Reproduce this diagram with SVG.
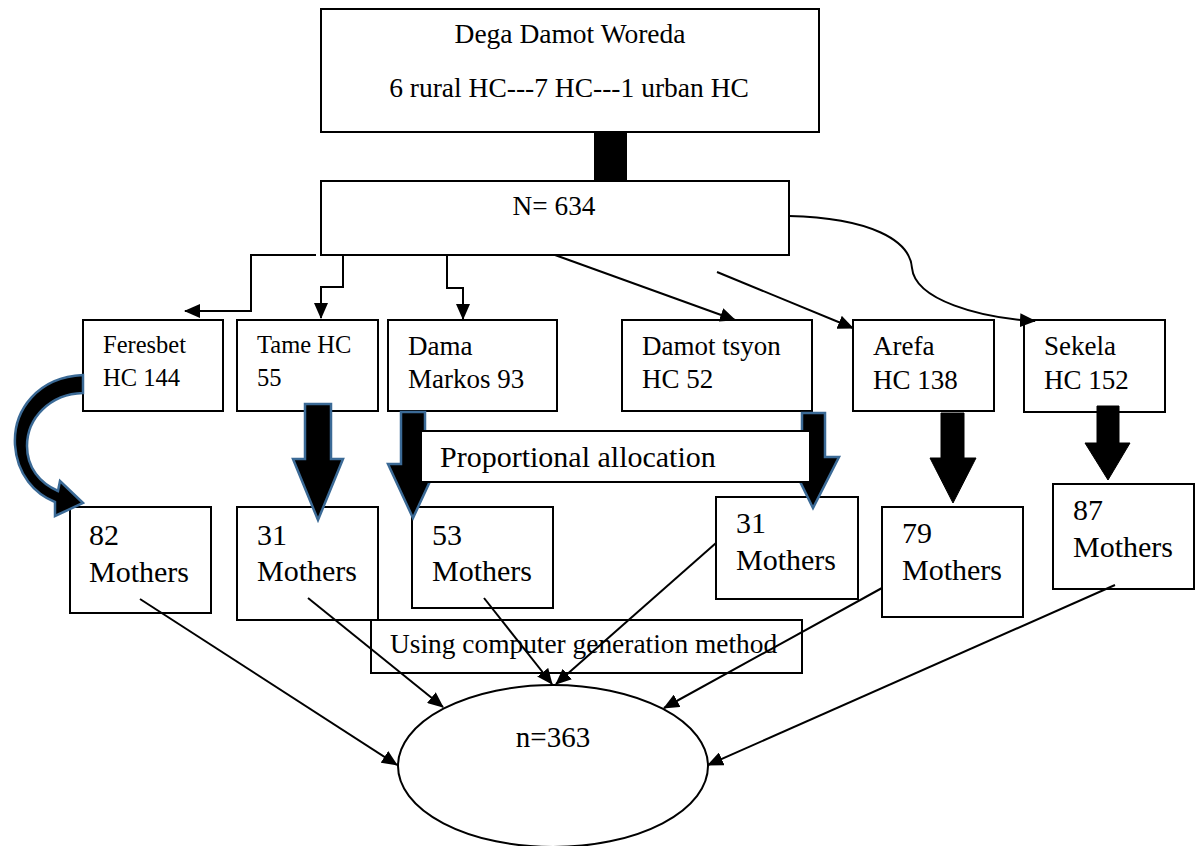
<svg xmlns="http://www.w3.org/2000/svg" width="1204" height="846" viewBox="0 0 1204 846">
<style>
.box{fill:#fff;stroke:#000;stroke-width:2}
.t{font-family:"Liberation Serif","Times New Roman",serif;fill:#000}
.ln{fill:none;stroke:#000;stroke-width:2}
.blk{fill:#000;stroke:#3B6A96;stroke-width:2.5;stroke-linejoin:miter}
.blk2{fill:#000;stroke:#000;stroke-width:1}
</style>
<defs>
<marker id="ah" markerUnits="userSpaceOnUse" markerWidth="16" markerHeight="14" refX="15" refY="7" orient="auto" viewBox="0 0 16 14">
<path d="M0,0 L16,7 L0,14 z" fill="#000"/>
</marker>
</defs>
<rect width="1204" height="846" fill="#fff"/>

<g id="woreda">
<rect class="box" x="321" y="9" width="498" height="123"/>
<text class="t" x="570" y="43" font-size="27.5" text-anchor="middle">Dega Damot Woreda</text>
<text class="t" x="569" y="97" font-size="27.5" text-anchor="middle">6 rural HC---7 HC---1 urban HC</text>
</g>
<g id="N634">
<rect class="box" x="321" y="181" width="468" height="74"/>
<text class="t" x="554" y="215" font-size="27.3" text-anchor="middle">N= 634</text>
</g>

<g id="feresbet">
<rect class="box" x="83" y="320" width="140" height="91"/>
<text class="t" x="103" y="353" font-size="24.5">Feresbet</text>
<text class="t" x="103" y="386" font-size="24.5">HC 144</text>
</g>
<g id="tame">
<rect class="box" x="237" y="320" width="141" height="91"/>
<text class="t" x="257" y="353" font-size="24.5">Tame HC</text>
<text class="t" x="257" y="386" font-size="24.5">55</text>
</g>
<g id="dama">
<rect class="box" x="388" y="320" width="169" height="91"/>
<text class="t" x="408" y="355" font-size="27">Dama</text>
<text class="t" x="408" y="388" font-size="27">Markos 93</text>
</g>
<g id="damot">
<rect class="box" x="622" y="320" width="190" height="91"/>
<text class="t" x="642" y="355" font-size="27">Damot tsyon</text>
<text class="t" x="642" y="388" font-size="27">HC 52</text>
</g>
<g id="arefa">
<rect class="box" x="853" y="320" width="141" height="91"/>
<text class="t" x="873" y="355" font-size="27">Arefa</text>
<text class="t" x="873" y="389" font-size="27">HC 138</text>
</g>
<g id="sekela">
<rect class="box" x="1024" y="320" width="141" height="92"/>
<text class="t" x="1044" y="355" font-size="27">Sekela</text>
<text class="t" x="1044" y="389" font-size="27">HC 152</text>
</g>

<g id="m82">
<rect class="box" x="70" y="507" width="141" height="106"/>
<text class="t" x="89" y="545" font-size="30">82</text>
<text class="t" x="89" y="582" font-size="30">Mothers</text>
</g>
<g id="m31a">
<rect class="box" x="237" y="507" width="141" height="113"/>
<text class="t" x="257" y="545" font-size="30">31</text>
<text class="t" x="257" y="581" font-size="30">Mothers</text>
</g>
<g id="m53">
<rect class="box" x="412" y="507" width="141" height="101"/>
<text class="t" x="432" y="545" font-size="30">53</text>
<text class="t" x="432" y="581" font-size="30">Mothers</text>
</g>
<g id="m31b">
<rect class="box" x="716" y="497" width="142" height="102"/>
<text class="t" x="736" y="533" font-size="30">31</text>
<text class="t" x="736" y="570" font-size="30">Mothers</text>
</g>
<g id="m79">
<rect class="box" x="882" y="507" width="141" height="110"/>
<text class="t" x="902" y="543" font-size="30">79</text>
<text class="t" x="902" y="580" font-size="30">Mothers</text>
</g>
<g id="m87">
<rect class="box" x="1053" y="484" width="141" height="105"/>
<text class="t" x="1073" y="520" font-size="30">87</text>
<text class="t" x="1073" y="557" font-size="30">Mothers</text>
</g>

<g id="n363">
<ellipse class="box" cx="553" cy="766" rx="155" ry="81"/>
<text class="t" x="553" y="747" font-size="29" text-anchor="middle">n=363</text>
</g>

<g id="thick-arrows">
<rect x="594" y="131" width="33" height="50" fill="#000"/>
<path class="blk" d="M83 375 C38 377 13 410 15 445 C17 475 35 494 55 502 L55 516 L83 503 L60 481 L58 491 C40 483 27 468 27 446 C27 418 50 394 83 393 Z"/>
<path class="blk" d="M305 404 L331 404 L331 459 L343 459 L318 520 L293 459 L305 459 Z"/>
<path class="blk" d="M401 412 L425 412 L425 464 L438 464 L413 518 L388 464 L401 464 Z"/>
<path class="blk" d="M802 413 L825 413 L825 457 L839 457 L813 508 L788 457 L802 457 Z"/>
<path class="blk2" d="M941 413 L964 413 L964 458 L976 458 L953 503 L930 458 L941 458 Z"/>
<path class="blk2" d="M1097 406 L1119 406 L1119 443 L1130 443 L1108 480 L1085 443 L1097 443 Z"/>
</g>

<g id="proportional">
<rect class="box" x="421" y="431" width="389" height="51"/>
<text class="t" x="440" y="467" font-size="30">Proportional allocation</text>
</g>
<g id="computer">
<rect class="box" x="371" y="620" width="431" height="53"/>
<text class="t" x="390" y="653" font-size="27.4">Using computer generation method</text>
</g>

<g id="connectors">
<path class="ln" marker-end="url(#ah)" d="M316 255 L251 255 L251 311 L185 311"/>
<path class="ln" marker-end="url(#ah)" d="M343 255 L343 287 L321 287 L321 318"/>
<path class="ln" marker-end="url(#ah)" d="M447 255 L447 288 L463 288 L463 319"/>
<path class="ln" marker-end="url(#ah)" d="M555 255 L735 320"/>
<path class="ln" marker-end="url(#ah)" d="M717 272 L853 328"/>
<path class="ln" marker-end="url(#ah)" d="M789 216 C870 218 910 240 912 268 C915 300 980 318 1035 321"/>
<path class="ln" marker-end="url(#ah)" d="M140 599 L397 765"/>
<path class="ln" marker-end="url(#ah)" d="M308 598 L443 707"/>
<path class="ln" marker-end="url(#ah)" d="M484 598 L552 684"/>
<path class="ln" marker-end="url(#ah)" d="M716 543 L556 684"/>
<path class="ln" marker-end="url(#ah)" d="M882 588 L664 708"/>
<path class="ln" marker-end="url(#ah)" d="M1115 585 L708 765"/>
</g>
</svg>
